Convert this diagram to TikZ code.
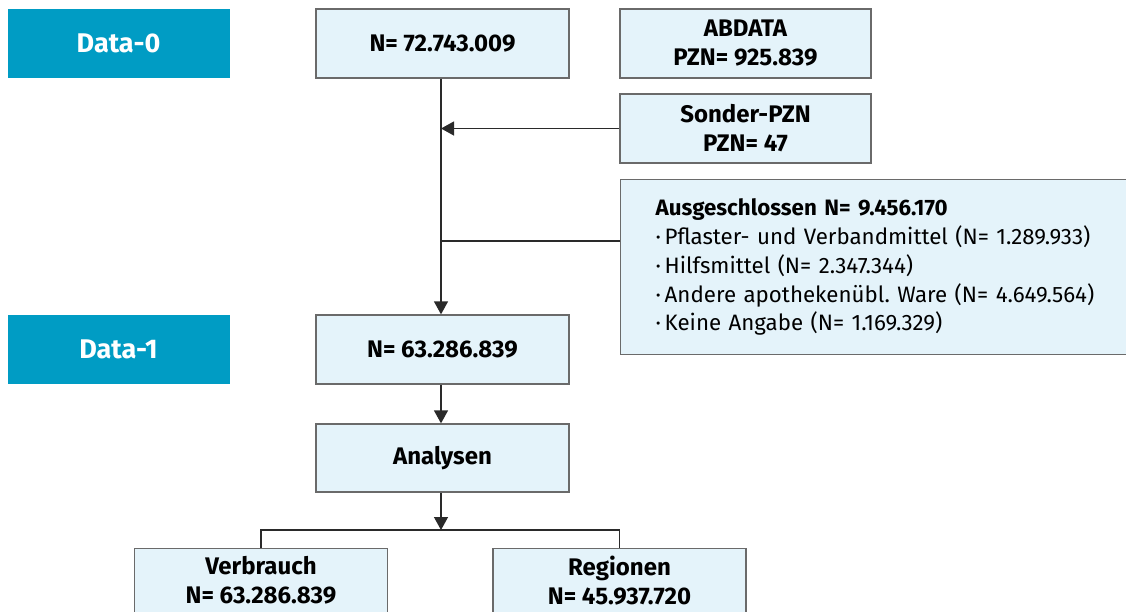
\documentclass[tikz,border=0pt]{standalone}
\usepackage{fontspec}
\setmainfont{Fira Sans}
\usetikzlibrary{arrows.meta,calc}
\definecolor{datablue}{HTML}{009CC4}
\definecolor{boxfill}{HTML}{E4F3FA}
\definecolor{boxline}{HTML}{6A6A6A}
\definecolor{linecol}{HTML}{2A2A2A}
\frenchspacing
\begin{document}
\begin{tikzpicture}[x=1pt,y=-1pt,
  databox/.style={fill=datablue,draw=none,minimum width=222pt,minimum height=69pt,inner sep=0pt,
    text=white,font=\fontsize{27}{30}\selectfont\bfseries},
  flowbox/.style={fill=boxfill,draw=boxline,line width=1.3pt,minimum width=253pt,minimum height=69pt,
    inner sep=0pt,align=center,font=\fontsize{24}{29}\selectfont\bfseries},
  conn/.style={draw=linecol,line width=1.3pt},
  arr/.style={conn,-{Triangle[length=13pt,width=14pt]}}]
\useasboundingbox (0,0) rectangle (1126,611);
\node[databox] (d0) at (118.5,43.5) {Data-0};
\node[databox] (d1) at (118.5,349.5) {Data-1};
\node[flowbox] (n1) at (442.5,43.5) {N= 72.743.009};
\node[flowbox,minimum width=251pt] (abd) at (745.5,43.5) {ABDATA\\PZN= 925.839};
\node[flowbox,minimum width=251pt] (son) at (745.5,128.5) {Sonder-PZN\\PZN= 47};
\node[flowbox,anchor=north west,minimum width=520pt,minimum height=175pt,inner xsep=35pt,
  text width=470pt,align=left,font=\fontsize{22.3}{28.8}\selectfont] (aus) at (620,179)
  {\textbf{Ausgeschlossen N= 9.456.170}\\
   ·\,Pflaster- und Verbandmittel (N= 1.289.933)\\
   ·\,Hilfsmittel (N= 2.347.344)\\
   ·\,Andere apothekenübl.\ Ware (N= 4.649.564)\\
   ·\,Keine Angabe (N= 1.169.329)};
\node[flowbox] (n2) at (442.5,349.5) {N= 63.286.839};
\node[flowbox,minimum height=68pt] (ana) at (442.5,458) {Analysen};
\node[flowbox,anchor=north,minimum height=64pt] (ver) at (261,548) {Verbrauch\\N= 63.286.839};
\node[flowbox,anchor=north,minimum height=64pt] (reg) at (619.5,548) {Regionen\\N= 45.937.720};
\coordinate (j2) at (441,241);
\coordinate (split) at (441,530);
\draw[arr] (n1.south -| j2) -- (n2.north -| j2);
\draw[arr] (son.west) -- (son.west -| j2);
\draw[conn] (aus.west |- j2) -- (j2);
\draw[arr] (n2.south -| j2) -- (ana.north -| j2);
\draw[arr] (ana.south -| split) -- (split);
\draw[conn] (ver.north) |- (split) -| (reg.north);
\end{tikzpicture}
\end{document}
